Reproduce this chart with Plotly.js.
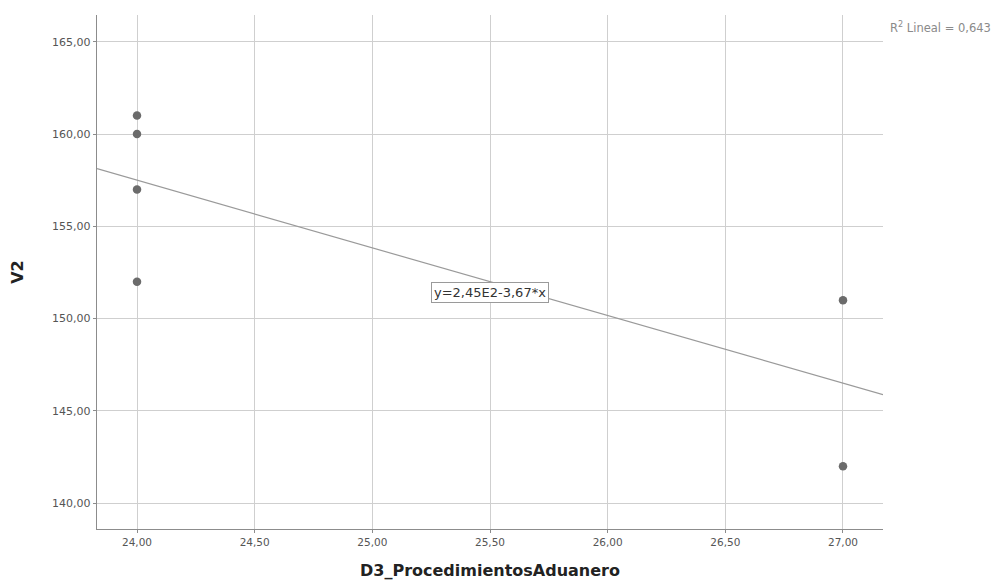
<!DOCTYPE html>
<html>
<head>
<meta charset="utf-8">
<script src="https://cdn.plot.ly/plotly-3.0.1.min.js"></script>
<style>html,body{margin:0;padding:0;background:#fff;}#chart{width:996px;height:584px;}</style>
</head>
<body>
<div id="chart"></div>
<script>
// Data
const xValues = [24, 24, 24, 24, 27, 27];
const yValues = [161, 160, 157, 152, 151, 142];
const xRange = [23.83, 27.17];
const yRange = [138.6, 166.45];
const xTicks = [24, 24.5, 25, 25.5, 26, 26.5, 27];
const yTicks = [140, 145, 150, 155, 160, 165];
const xTitle = "D3_ProcedimientosAduanero";
const yTitle = "V2";

// Least-squares fit from the data
const n = xValues.length;
const mx = xValues.reduce((a, b) => a + b, 0) / n;
const my = yValues.reduce((a, b) => a + b, 0) / n;
let sxy = 0, sxx = 0, syy = 0;
for (let i = 0; i < n; i++) {
  sxy += (xValues[i] - mx) * (yValues[i] - my);
  sxx += (xValues[i] - mx) ** 2;
  syy += (yValues[i] - my) ** 2;
}
const slope = sxy / sxx;
const intercept = my - slope * mx;
const r2 = (sxy * sxy) / (sxx * syy);
const fitX = xRange.slice();
const fitY = fitX.map(x => intercept + slope * x);

const fmt = (v, d) => v.toFixed(d).replace('.', ',');
const trunc2 = v => (Math.floor(v * 100 + 1e-9) / 100).toFixed(2).replace('.', ',');
const eqText = "y=" + trunc2(intercept / 100) + "E2" + (slope < 0 ? "-" : "+") + fmt(Math.abs(slope), 2) + "*x";
const r2Text = "R<sup>2</sup> Lineal = " + fmt(r2, 3);

const labelX = 25.5, labelY = intercept + slope * 25.5 - 0.6;

const traces = [
  {x: fitX, y: fitY, mode: 'lines', type: 'scatter', line: {color: '#9a9a9a', width: 1.2}, hoverinfo: 'skip'},
  {x: xValues, y: yValues, mode: 'markers', type: 'scatter', marker: {color: '#6b6b6b', size: 8.5}}
];

const titleFont = {size: 16, color: '#222222', family: 'DejaVu Sans, sans-serif', weight: 'bold'};

const layout = {
  width: 996, height: 584,
  margin: {l: 97, r: 113, t: 15, b: 55},
  paper_bgcolor: '#ffffff', plot_bgcolor: '#ffffff',
  showlegend: false,
  separators: ',.',
  font: {family: 'DejaVu Sans, sans-serif', color: '#555555', size: 11},
  xaxis: {
    range: xRange, tickvals: xTicks, tickformat: '.2f',
    showgrid: true, gridcolor: '#cfcfcf', gridwidth: 1,
    showline: true, linecolor: '#8c8c8c', linewidth: 1.2,
    ticks: 'outside', ticklen: 3, tickcolor: '#8c8c8c',
    zeroline: false, tickfont: {size: 10.5, color: '#555555'},
    title: {text: xTitle, font: titleFont, standoff: 18}
  },
  yaxis: {
    range: yRange, tickvals: yTicks, tickformat: '.2f',
    showgrid: true, gridcolor: '#cfcfcf', gridwidth: 1,
    showline: true, linecolor: '#8c8c8c', linewidth: 1.2,
    ticks: 'outside', ticklen: 3, tickcolor: '#8c8c8c',
    zeroline: false, tickfont: {size: 11, color: '#555555'},
    title: {text: yTitle, font: titleFont, standoff: 24}
  },
  annotations: [
    {x: labelX, y: labelY, xref: 'x', yref: 'y', text: eqText, showarrow: false,
     font: {size: 13, color: '#333333'}, bgcolor: '#ffffff', bordercolor: '#9a9a9a', borderwidth: 1, borderpad: 2},
    {x: 1, y: 0.975, xref: 'paper', yref: 'paper', xanchor: 'right', yanchor: 'middle', xshift: 110,
     text: r2Text, showarrow: false, font: {size: 11.5, color: '#8a8a8a'}}
  ]
};

Plotly.newPlot('chart', traces, layout, {displayModeBar: false, staticPlot: true});
</script>
</body>
</html>
